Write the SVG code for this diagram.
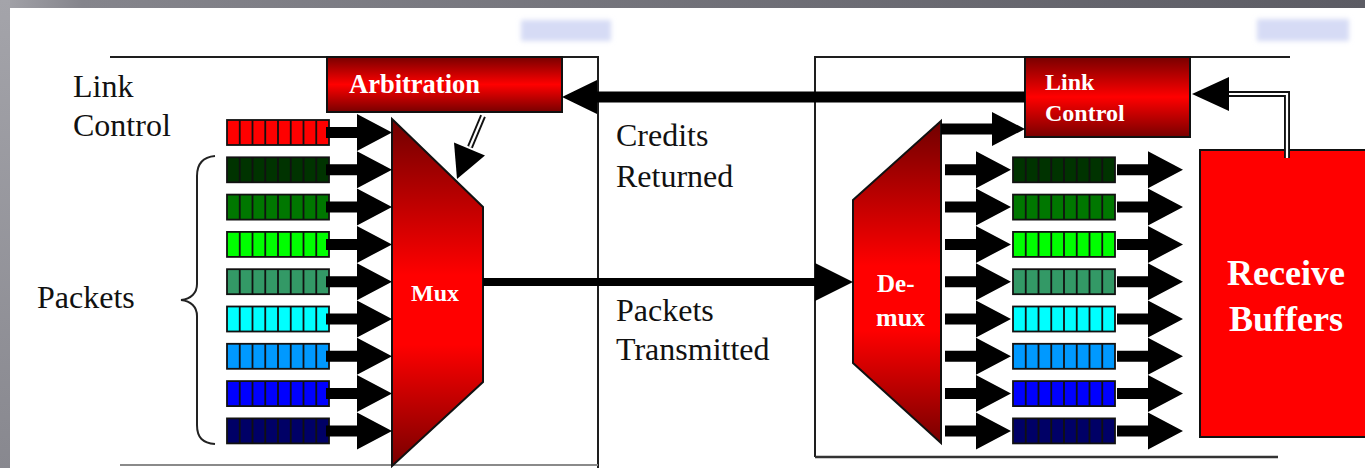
<svg xmlns="http://www.w3.org/2000/svg" width="1365" height="468" viewBox="0 0 1365 468">
  <defs>
    <linearGradient id="topBand" x1="0" y1="0" x2="1" y2="0">
      <stop offset="0" stop-color="#a4a4aa"/>
      <stop offset="0.06" stop-color="#85858c"/>
      <stop offset="1" stop-color="#5c5c64"/>
    </linearGradient>
    <linearGradient id="leftBand" x1="0" y1="0" x2="0" y2="1">
      <stop offset="0" stop-color="#a4a4aa"/>
      <stop offset="1" stop-color="#88888f"/>
    </linearGradient>
    <linearGradient id="redV" x1="0" y1="0" x2="0" y2="1">
      <stop offset="0" stop-color="#780000"/>
      <stop offset="0.5" stop-color="#ff0000"/>
      <stop offset="1" stop-color="#780000"/>
    </linearGradient>
    <linearGradient id="muxFill" gradientUnits="userSpaceOnUse" x1="0" y1="119" x2="0" y2="466">
      <stop offset="0" stop-color="#700000"/>
      <stop offset="0.45" stop-color="#ff0000"/>
      <stop offset="0.65" stop-color="#ff0000"/>
      <stop offset="1" stop-color="#780000"/>
    </linearGradient>
    <linearGradient id="demuxFill" gradientUnits="userSpaceOnUse" x1="0" y1="121" x2="0" y2="443">
      <stop offset="0" stop-color="#700000"/>
      <stop offset="0.45" stop-color="#ff0000"/>
      <stop offset="0.65" stop-color="#ff0000"/>
      <stop offset="1" stop-color="#780000"/>
    </linearGradient>
    <filter id="soft" x="-20%" y="-50%" width="140%" height="200%">
      <feGaussianBlur stdDeviation="2.5"/>
    </filter>
    <!-- eight-slot queue outline, laid over a coloured fill -->
    <g id="cells" fill="none" stroke="#111" stroke-width="1.8">
      <rect x="0" y="0" width="102" height="25"/>
      <path d="M12.75,0v25M25.5,0v25M38.25,0v25M51,0v25M63.75,0v25M76.5,0v25M89.25,0v25"/>
    </g>
    <!-- short block arrow, origin at tail centre -->
    <path id="arr" d="M0,-5.5H31V-18.5L66,0L31,18.5V5.5H0Z" fill="#000"/>
  </defs>
  <style>
    .lbl{font-family:"Liberation Serif","Times New Roman","DejaVu Serif",serif;font-size:32px;fill:#111}
    .wl{font-family:"Liberation Serif","Times New Roman","DejaVu Serif",serif;font-weight:bold;fill:#fff}
    .frame{stroke:#1e1e1e;stroke-width:2;fill:none}
    .box{stroke:#111;stroke-width:2}
    .dblOut{stroke:#111;stroke-width:6;fill:none}
    .dblIn{stroke:#fff;stroke-width:2.2;fill:none}
    .blk{fill:#000}
  </style>

  <!-- page background and slide border -->
  <rect width="1365" height="468" fill="#fff"/>
  <rect x="0" y="0" width="1365" height="8" fill="url(#topBand)"/>
  <rect x="0" y="0" width="10" height="468" fill="url(#leftBand)"/>
  <rect x="521" y="20" width="90" height="21" fill="#d6dbf5" filter="url(#soft)"/>
  <rect x="1257" y="19" width="92" height="22" fill="#d6dbf5" filter="url(#soft)"/>

  <!-- transmitter and receiver frames -->
  <g id="frames">
    <path class="frame" d="M110,57H598V468"/>
    <path d="M120,465H598" stroke="#8a8a8a" stroke-width="2" fill="none"/>
    <path class="frame" d="M1290,57H815V457"/>
    <path d="M815,457H1278" stroke="#333" stroke-width="2.5" fill="none"/>
  </g>

  <!-- transmitter side -->
  <g id="tx-label">
    <text class="lbl" x="73" y="97">Link</text>
    <text class="lbl" x="73" y="136">Control</text>
  </g>
  <g id="packets-label">
    <text class="lbl" x="37" y="308">Packets</text>
    <path d="M215,156C203,157 197,163 197,176L197,284C197,293 191,299 181,300C191,301 197,307 197,316L197,425C197,438 203,443 215,444" fill="none" stroke="#222" stroke-width="2"/>
  </g>

  <g id="tx-queues">
    <g id="txq-control"><rect x="227" y="120" width="102" height="25" fill="#ff0000"/><use href="#cells" x="227" y="120"/></g>
    <g id="txq-1"><rect x="227" y="157.3" width="102" height="25" fill="#003300"/><use href="#cells" x="227" y="157.3"/></g>
    <g id="txq-2"><rect x="227" y="194.6" width="102" height="25" fill="#007700"/><use href="#cells" x="227" y="194.6"/></g>
    <g id="txq-3"><rect x="227" y="231.9" width="102" height="25" fill="#00ff00"/><use href="#cells" x="227" y="231.9"/></g>
    <g id="txq-4"><rect x="227" y="269.2" width="102" height="25" fill="#339966"/><use href="#cells" x="227" y="269.2"/></g>
    <g id="txq-5"><rect x="227" y="306.5" width="102" height="25" fill="#00ffff"/><use href="#cells" x="227" y="306.5"/></g>
    <g id="txq-6"><rect x="227" y="343.8" width="102" height="25" fill="#0099ff"/><use href="#cells" x="227" y="343.8"/></g>
    <g id="txq-7"><rect x="227" y="381.1" width="102" height="25" fill="#0000ff"/><use href="#cells" x="227" y="381.1"/></g>
    <g id="txq-8"><rect x="227" y="418.4" width="102" height="25" fill="#000066"/><use href="#cells" x="227" y="418.4"/></g>
  </g>

  <g id="arbitration">
    <rect class="box" x="327" y="57" width="235" height="55" fill="url(#redV)"/>
    <text class="wl" x="349" y="93" font-size="26.5">Arbitration</text>
  </g>

  <g id="mux">
    <polygon class="box" points="392,119 483,207 483,382 392,466" fill="url(#muxFill)" stroke-width="1.5"/>
    <text class="wl" x="435" y="301" font-size="24" text-anchor="middle">Mux</text>
  </g>

  <!-- receiver side -->
  <g id="demux">
    <polygon class="box" points="853,200 941,121 941,443 853,363" fill="url(#demuxFill)" stroke-width="1.5"/>
    <text class="wl" x="877" y="292" font-size="25">De-</text>
    <text class="wl" x="876" y="326" font-size="26">mux</text>
  </g>

  <g id="rx-queues">
    <g id="rxq-1"><rect x="1013" y="157.3" width="102" height="25" fill="#003300"/><use href="#cells" x="1013" y="157.3"/></g>
    <g id="rxq-2"><rect x="1013" y="194.6" width="102" height="25" fill="#007700"/><use href="#cells" x="1013" y="194.6"/></g>
    <g id="rxq-3"><rect x="1013" y="231.9" width="102" height="25" fill="#00ff00"/><use href="#cells" x="1013" y="231.9"/></g>
    <g id="rxq-4"><rect x="1013" y="269.2" width="102" height="25" fill="#339966"/><use href="#cells" x="1013" y="269.2"/></g>
    <g id="rxq-5"><rect x="1013" y="306.5" width="102" height="25" fill="#00ffff"/><use href="#cells" x="1013" y="306.5"/></g>
    <g id="rxq-6"><rect x="1013" y="343.8" width="102" height="25" fill="#0099ff"/><use href="#cells" x="1013" y="343.8"/></g>
    <g id="rxq-7"><rect x="1013" y="381.1" width="102" height="25" fill="#0000ff"/><use href="#cells" x="1013" y="381.1"/></g>
    <g id="rxq-8"><rect x="1013" y="418.4" width="102" height="25" fill="#000066"/><use href="#cells" x="1013" y="418.4"/></g>
  </g>

  <g id="link-control">
    <rect class="box" x="1025" y="57" width="165" height="80" fill="url(#redV)"/>
    <text class="wl" x="1045" y="90" font-size="24">Link</text>
    <text class="wl" x="1045" y="121" font-size="24">Control</text>
  </g>

  <g id="receive-buffers">
    <rect class="box" x="1200" y="150" width="170" height="287" fill="#ff0000"/>
    <text class="wl" x="1286" y="285" font-size="36" text-anchor="middle">Receive</text>
    <text class="wl" x="1286" y="331" font-size="36" text-anchor="middle">Buffers</text>
  </g>

  <g id="link-labels">
    <text class="lbl" x="616" y="146">Credits</text>
    <text class="lbl" x="616" y="187">Returned</text>
    <text class="lbl" x="616" y="321">Packets</text>
    <text class="lbl" x="616" y="360">Transmitted</text>
  </g>

  <!-- connectors -->
  <g id="connectors">
    <!-- queues into mux -->
    <use href="#arr" x="326" y="132.5"/>
    <use href="#arr" x="326" y="169.8"/>
    <use href="#arr" x="326" y="207.1"/>
    <use href="#arr" x="326" y="244.4"/>
    <use href="#arr" x="326" y="281.7"/>
    <use href="#arr" x="326" y="319"/>
    <use href="#arr" x="326" y="356.3"/>
    <use href="#arr" x="326" y="393.6"/>
    <use href="#arr" x="326" y="430.9"/>
    <!-- arbitration select -->
    <line class="dblOut" x1="483" y1="116" x2="470" y2="147"/>
    <line class="dblIn" x1="483.4" y1="115" x2="470" y2="147"/>
    <polygon class="blk" points="485,155.5 454,142.5 457,179"/>
    <!-- link: packets out, credits back -->
    <path class="blk" d="M483,278H815V263L853,282L815,301V286H483Z"/>
    <path class="blk" d="M1025,91.5H597V80L562,97L597,114V102.5H1025Z"/>
    <!-- demux to link control -->
    <path class="blk" d="M941,123.5H992V112L1025,129L992,146V134.5H941Z"/>
    <!-- demux to receive queues -->
    <use href="#arr" x="945" y="169.8"/>
    <use href="#arr" x="945" y="207.1"/>
    <use href="#arr" x="945" y="244.4"/>
    <use href="#arr" x="945" y="281.7"/>
    <use href="#arr" x="945" y="319"/>
    <use href="#arr" x="945" y="356.3"/>
    <use href="#arr" x="945" y="393.6"/>
    <use href="#arr" x="945" y="430.9"/>
    <!-- receive queues to buffers -->
    <use href="#arr" x="1117" y="169.8"/>
    <use href="#arr" x="1117" y="207.1"/>
    <use href="#arr" x="1117" y="244.4"/>
    <use href="#arr" x="1117" y="281.7"/>
    <use href="#arr" x="1117" y="319"/>
    <use href="#arr" x="1117" y="356.3"/>
    <use href="#arr" x="1117" y="393.6"/>
    <use href="#arr" x="1117" y="430.9"/>
    <!-- buffer status back to link control -->
    <path class="dblOut" d="M1287,158V94H1226"/>
    <path class="dblIn" d="M1287,158V94H1226"/>
    <polygon class="blk" points="1229,77 1192,94 1229,111"/>
  </g>
</svg>
